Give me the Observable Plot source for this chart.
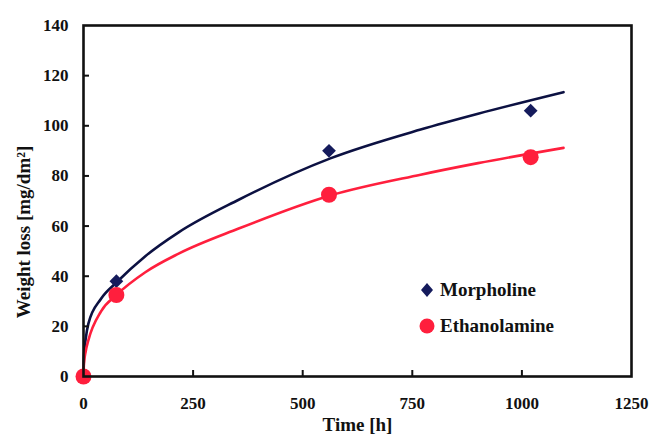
<!DOCTYPE html>
<html>
<head>
<meta charset="utf-8">
<script src="https://cdn.jsdelivr.net/npm/d3@7"></script>
<script src="https://cdn.jsdelivr.net/npm/@observablehq/plot@0.6"></script>
<style>
  html, body { margin: 0; padding: 0; background: #fff; }
  #wrap { position: relative; width: 649px; height: 434px; }
  #wrap svg text { font-family: "Liberation Serif", "Times New Roman", Times, "DejaVu Serif", serif; }
  .leg { position: absolute; left: 419px; font-family: "Liberation Serif", "Times New Roman", Times, "DejaVu Serif", serif; font-weight: bold; font-size: 19px; display: flex; align-items: center; color: #111; }
  .leg svg { margin-right: 5px; }
</style>
</head>
<body>
<div id="wrap"></div>
<script>
// Measured points
const timesPts = [0, 75, 560, 1020];
const morpholinePts = [0, 38, 90, 106];
const ethanolaminePts = [0, 32.5, 72.5, 87.5];

// Fitted curves
const curveTimes = [0, 1, 5, 11, 40, 75, 141, 217, 354, 563, 769, 900, 1095];
const morpholineCurve = [0, 8, 15, 21, 31, 37.5, 48, 57.5, 70.5, 87, 98.5, 104.8, 113.4];
const ethanolamineCurve = [0, 5, 10, 14.4, 26, 32.5, 41.6, 49, 59, 72.2, 80.5, 85.1, 91.2];

const xTicks = [0, 250, 500, 750, 1000, 1250];
const yTicks = [0, 20, 40, 60, 80, 100, 120, 140];
const seriesNames = ["Morpholine", "Ethanolamine"];
const lineColors = ["#0c1142", "#ff1f3d"];
const markColors = ["#151b5c", "#ff1f3d"];

const pts = (ys) => timesPts.map((t, i) => ({t, v: ys[i]}));
const crv = (ys) => curveTimes.map((t, i) => ({t, v: ys[i]}));

const chart = Plot.plot({
  width: 649,
  height: 434,
  marginLeft: 83,
  marginRight: 18,
  marginTop: 25,
  marginBottom: 58,
  style: {fontWeight: "bold", fontSize: "17px", color: "#111", background: "#fff"},
  x: {domain: [0, 1250]},
  y: {domain: [0, 140]},
  marks: [
    Plot.line(crv(morpholineCurve), {x: "t", y: "v", stroke: lineColors[0], strokeWidth: 2.6, curve: "monotone-x"}),
    Plot.line(crv(ethanolamineCurve), {x: "t", y: "v", stroke: lineColors[1], strokeWidth: 2.6, curve: "monotone-x"}),
    Plot.dot(pts(morpholinePts), {x: "t", y: "v", symbol: "diamond2", r: 6.2, fill: markColors[0], stroke: "none"}),
    Plot.dot(pts(ethanolaminePts), {x: "t", y: "v", r: 8, fill: markColors[1], stroke: "none"}),
    Plot.frame({stroke: "#111", strokeWidth: 2.6}),
    Plot.axisX({ticks: xTicks.slice(1, -1), tickSize: -6, text: null, label: null, strokeWidth: 2}),
    Plot.axisY({ticks: yTicks.slice(1, -1), tickSize: -6, text: null, label: null, strokeWidth: 2}),
    Plot.axisX({ticks: xTicks, tickFormat: "d", tickSize: 0, tickPadding: 20, label: null, fill: "#111"}),
    Plot.axisY({ticks: yTicks, tickFormat: "d", tickSize: 0, tickPadding: 15, label: null, fill: "#111"}),
    Plot.text(["Time [h]"], {frameAnchor: "bottom", textAnchor: "middle", lineAnchor: "middle", dy: 48, fill: "#111", fontSize: 19}),
    Plot.text(["Weight loss [mg/dm²]"], {frameAnchor: "left", textAnchor: "middle", lineAnchor: "middle", rotate: -90, dx: -60, dy: 31, fill: "#111", fontSize: 19})
  ]
});
const wrap = document.getElementById("wrap");
wrap.appendChild(chart);

// Legend
const legTop = [279, 315];
seriesNames.forEach((name, i) => {
  const d = document.createElement("div");
  d.className = "leg";
  d.style.top = legTop[i] + "px";
  const sym = i === 0
    ? `<svg width="16" height="22"><path d="M8,4 L14,11 L8,18 L2,11 Z" fill="${markColors[0]}"/></svg>`
    : `<svg width="16" height="22"><circle cx="8" cy="11" r="7.5" fill="${markColors[1]}"/></svg>`;
  d.innerHTML = sym + name;
  wrap.appendChild(d);
});
</script>
</body>
</html>
